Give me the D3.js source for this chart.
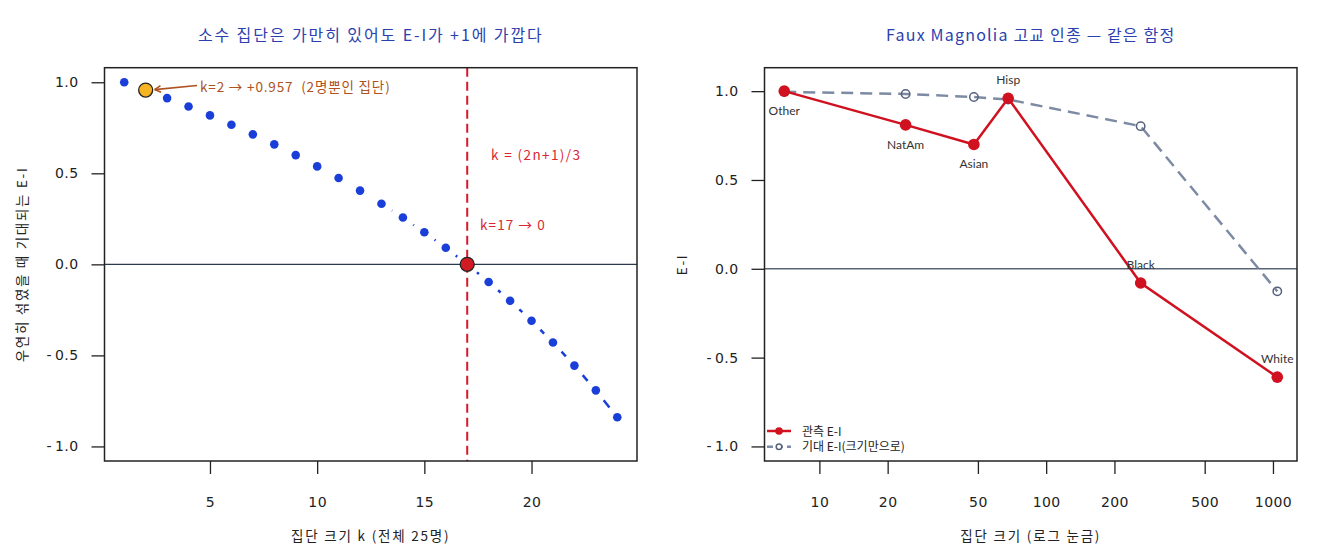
<!DOCTYPE html>
<html>
<head>
<meta charset="utf-8">
<script src="https://cdn.jsdelivr.net/npm/d3@7"></script>
<style>
  body { margin: 0; background: #fff; }
  svg text { font-family: "Noto Sans CJK KR", "DejaVu Sans", sans-serif; white-space: pre; }
</style>
</head>
<body>
<svg id="chart" width="1320" height="560"></svg>
<script>
// left panel: expected E-I for a group of size k among 25 people
var groupK = [1, 2, 3, 4, 5, 6, 7, 8, 9, 10, 11, 12, 13, 14, 15, 16, 17, 18, 19, 20, 21, 22, 23, 24];
var expectedEI = [1.000, 0.957, 0.913, 0.867, 0.818, 0.767, 0.714, 0.659, 0.600, 0.538, 0.474, 0.405,
                  0.333, 0.257, 0.176, 0.091, 0.000, -0.097, -0.200, -0.310, -0.429, -0.556, -0.692, -0.840];
var smallK = 2, zeroK = 17;
var leftXTicks = [5, 10, 15, 20];
var eiTicks = [-1, -0.5, 0, 0.5, 1];

// right panel: Faux Magnolia race groups
var raceGroups = ["Other", "NatAm", "Asian", "Hisp", "Black", "White"];
var raceSize = [7, 24, 48, 68, 261, 1045];
var observedEI = [1.00, 0.81, 0.70, 0.96, -0.08, -0.61];
var sizeOnlyEI = [0.996, 0.984, 0.967, 0.953, 0.803, -0.127];
var logTicks = [10, 20, 50, 100, 200, 500, 1000];

var svg = d3.select("#chart");
var TOP = 67.7, BOTTOM = 461;
var tickFont = "'DejaVu Sans', sans-serif";

function frame(x0, x1, xs, ys, xticks, title, titleLs, xlab, ylab, ylabX) {
    var g = svg.append("g");
    g.append("g")
        .attr("transform", "translate(0," + BOTTOM + ")")
        .call(d3.axisBottom(xs).tickValues(xticks).tickSize(13).tickPadding(23).tickFormat(d3.format("d")))
        .call(function(a) { a.select(".domain").remove(); });
    g.append("g")
        .attr("transform", "translate(" + x0 + ",0)")
        .call(d3.axisLeft(ys).tickValues(eiTicks).tickSize(13).tickPadding(13)
              .tickFormat(function(v) { return v < 0 ? "-\u2009" + d3.format(".1f")(-v) : d3.format(".1f")(v); }))
        .call(function(a) { a.select(".domain").remove(); });
    g.selectAll(".tick line").attr("stroke", "#222").attr("stroke-width", 1.3);
    g.selectAll(".tick text").attr("fill", "#222").style("font-family", tickFont)
        .style("font-size", "14px").style("letter-spacing", "0.4px");

    g.append("text").attr("x", (x0 + x1) / 2).attr("y", 41).attr("text-anchor", "middle")
        .attr("fill", "#2b3fae").style("font-size", "16px").style("letter-spacing", titleLs + "px").text(title);
    g.append("text").attr("x", (x0 + x1) / 2).attr("y", 541).attr("text-anchor", "middle")
        .attr("fill", "#222").style("font-size", "13.5px").style("letter-spacing", "1.8px").text(xlab);
    g.append("text").attr("transform", "translate(" + ylabX + "," + (TOP + BOTTOM) / 2 + ") rotate(-90)")
        .attr("text-anchor", "middle").attr("fill", "#222")
        .style("font-size", "13.5px").style("letter-spacing", "1.7px").text(ylab);
    return g;
}

function box(x0, x1) {
    svg.append("rect").attr("x", x0).attr("y", TOP).attr("width", x1 - x0).attr("height", BOTTOM - TOP)
        .attr("fill", "none").attr("stroke", "#222").attr("stroke-width", 1.5);
}

// ---------- left ----------
var lx = d3.scaleLinear().domain([0.08, 24.92]).range([104.5, 637]);
var ly = d3.scaleLinear().domain([-1.08, 1.08]).range([BOTTOM, TOP]);

frame(104.5, 637, lx, ly, leftXTicks, "소수 집단은 가만히 있어도 E-I가 +1에 가깝다", 1.9,
      "집단 크기 k (전체 25명)", "우연히 섞였을 때 기대되는 E-I", 27);

svg.append("line").attr("x1", 104.5).attr("x2", 637).attr("y1", ly(0)).attr("y2", ly(0))
    .attr("stroke", "#2c3a4e").attr("stroke-width", 1.2);
svg.append("line").attr("x1", lx(zeroK)).attr("x2", lx(zeroK)).attr("y1", TOP).attr("y2", BOTTOM)
    .attr("stroke", "#d7172a").attr("stroke-width", 2).attr("stroke-dasharray", "9,5");

// type="b": dashed pieces between points, broken around each point
var gap = 12.6;
for (var i = 0; i < groupK.length - 1; i++) {
    var ax = lx(groupK[i]), ay = ly(expectedEI[i]), bx = lx(groupK[i + 1]), by = ly(expectedEI[i + 1]);
    var d = Math.hypot(bx - ax, by - ay);
    if (d <= 2 * gap) continue;
    var ux = (bx - ax) / d, uy = (by - ay) / d;
    svg.append("line")
        .attr("x1", ax + ux * gap).attr("y1", ay + uy * gap)
        .attr("x2", bx - ux * gap).attr("y2", by - uy * gap)
        .attr("stroke", "#1a3fd9").attr("stroke-width", 2.5).attr("stroke-dasharray", "10,6");
}

svg.selectAll(".kdot").data(groupK.filter(function(k) { return k != smallK && k != zeroK; }))
  .enter().append("circle")
    .attr("cx", function(k) { return lx(k); })
    .attr("cy", function(k) { return ly(expectedEI[k - 1]); })
    .attr("r", 4.3).attr("fill", "#1a3fd9");

svg.append("circle").attr("cx", lx(smallK)).attr("cy", ly(expectedEI[smallK - 1])).attr("r", 7)
    .attr("fill", "#f6b323").attr("stroke", "#222").attr("stroke-width", 1.3);
svg.append("circle").attr("cx", lx(zeroK)).attr("cy", ly(expectedEI[zeroK - 1])).attr("r", 7)
    .attr("fill", "#d01a24").attr("stroke", "#222").attr("stroke-width", 1.3);

// annotation arrow to k=2
var brown = "#ad5220";
var tipX = lx(smallK) + 9, tipY = ly(expectedEI[smallK - 1]) - 0.5, tailX = 197, tailY = 85.5;
var ang = Math.atan2(tipY - tailY, tipX - tailX);
svg.append("line").attr("x1", tailX).attr("y1", tailY).attr("x2", tipX).attr("y2", tipY)
    .attr("stroke", brown).attr("stroke-width", 1.6);
[-0.5, 0.5].forEach(function(da) {
    svg.append("line").attr("x1", tipX).attr("y1", tipY)
        .attr("x2", tipX - 7 * Math.cos(ang + da)).attr("y2", tipY - 7 * Math.sin(ang + da))
        .attr("stroke", brown).attr("stroke-width", 1.6);
});
svg.append("text").attr("x", 200).attr("y", 91.5).attr("fill", brown)
    .style("font-size", "13.5px").style("letter-spacing", "0.85px")
    .text("k=2 → +" + d3.format(".3f")(expectedEI[smallK - 1]) + "  (2명뿐인 집단)");

svg.append("text").attr("x", 491).attr("y", 160).attr("fill", "#db2733")
    .style("font-size", "13.5px").style("letter-spacing", "1.4px").text("k = (2n+1)/3");
svg.append("text").attr("x", 480).attr("y", 230).attr("fill", "#db2733")
    .style("font-size", "13.5px").style("letter-spacing", "1.1px").text("k=" + zeroK + " → 0");

box(104.5, 637);

// ---------- right ----------
var rx = d3.scaleLog().domain([Math.pow(10, 0.758), Math.pow(10, 3.106)]).range([764.5, 1297]);
var ry = d3.scaleLinear().domain([-1.082, 1.132]).range([BOTTOM, TOP]);

frame(764.5, 1297, rx, ry, logTicks, "Faux Magnolia 고교 인종 — 같은 함정", 1.2,
      "집단 크기 (로그 눈금)", "E-I", 687);

svg.append("line").attr("x1", 764.5).attr("x2", 1297).attr("y1", ry(0)).attr("y2", ry(0))
    .attr("stroke", "#5a6475").attr("stroke-width", 1.5);

var grey = "#7d8aa3", greyDark = "#56627c", red = "#d0111f";
var idx = d3.range(raceGroups.length);

svg.append("path").datum(idx)
    .attr("d", d3.line().x(function(i) { return rx(raceSize[i]); }).y(function(i) { return ry(sizeOnlyEI[i]); }))
    .attr("fill", "none").attr("stroke", grey).attr("stroke-width", 2.5).attr("stroke-dasharray", "12,7");
svg.selectAll(".expc").data(idx).enter().append("circle")
    .attr("cx", function(i) { return rx(raceSize[i]); })
    .attr("cy", function(i) { return ry(sizeOnlyEI[i]); })
    .attr("r", 4.2).attr("fill", "none").attr("stroke", greyDark).attr("stroke-width", 1.5);

svg.append("path").datum(idx)
    .attr("d", d3.line().x(function(i) { return rx(raceSize[i]); }).y(function(i) { return ry(observedEI[i]); }))
    .attr("fill", "none").attr("stroke", red).attr("stroke-width", 2.5);
svg.selectAll(".obsc").data(idx).enter().append("circle")
    .attr("cx", function(i) { return rx(raceSize[i]); })
    .attr("cy", function(i) { return ry(observedEI[i]); })
    .attr("r", 5.8).attr("fill", red);

var above = { Hisp: true, Black: true, White: true };
svg.selectAll(".rlab").data(idx).enter().append("text")
    .attr("x", function(i) { return rx(raceSize[i]); })
    .attr("y", function(i) { return ry(observedEI[i]) + (above[raceGroups[i]] ? -14 : 24); })
    .attr("text-anchor", "middle").attr("fill", "#333")
    .style("font-family", "Lato, sans-serif").style("font-size", "12px")
    .text(function(i) { return raceGroups[i]; });

// legend, bottom-left, no box
var leg = [
    { label: "관측 E-I", color: red, dash: null, hollow: false },
    { label: "기대 E-I(크기만으로)", color: grey, dash: "6,4", hollow: true }
];
leg.forEach(function(e, j) {
    var yy = 431 + j * 15.7;
    svg.append("line").attr("x1", 767).attr("x2", 791).attr("y1", yy).attr("y2", yy)
        .attr("stroke", e.color).attr("stroke-width", 2.5).attr("stroke-dasharray", e.dash);
    svg.append("circle").attr("cx", 779).attr("cy", yy).attr("r", e.hollow ? 2.8 : 3.8)
        .attr("fill", e.hollow ? "#fff" : e.color)
        .attr("stroke", e.hollow ? greyDark : "none").attr("stroke-width", 1.5);
    svg.append("text").attr("x", 802).attr("y", yy + 4.5).attr("fill", "#222").style("font-size", "12px")
        .text(e.label);
});

box(764.5, 1297);
</script>
</body>
</html>
